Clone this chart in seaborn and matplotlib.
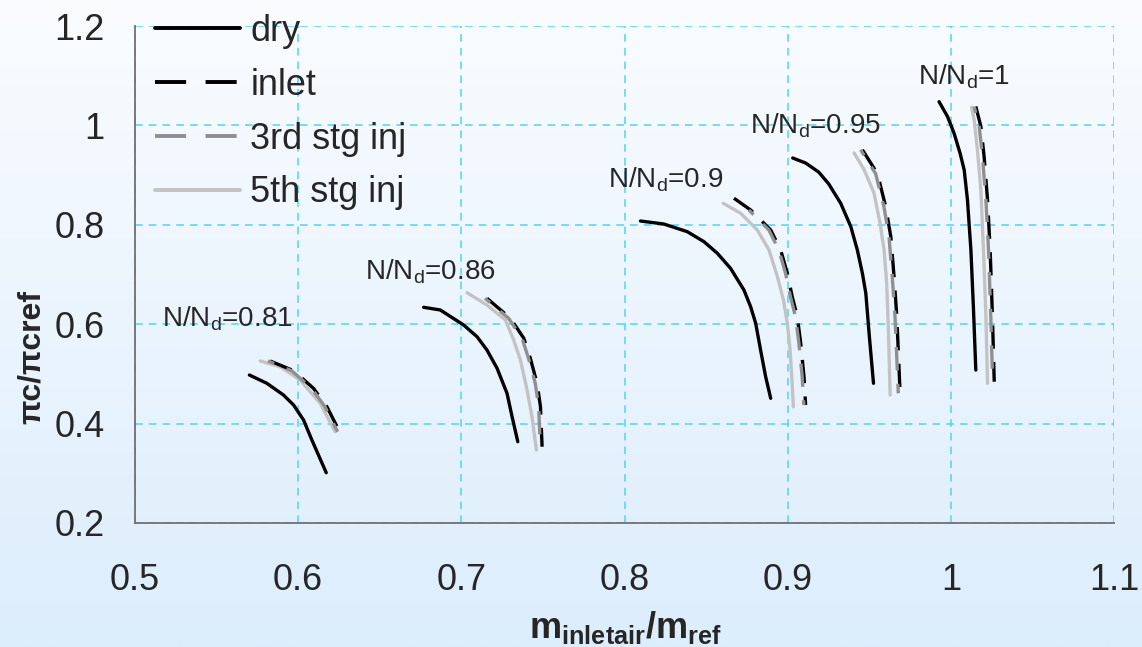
import numpy as np
import pandas as pd
import matplotlib
matplotlib.use("Agg")
import matplotlib.pyplot as plt
import seaborn as sns
from matplotlib.lines import Line2D

# ---- data ----
speeds = ["0.81", "0.86", "0.9", "0.95", "1"]

dry_x = {
    "0.81": [0.5701, 0.5808, 0.5910, 0.5972, 0.6033, 0.6084, 0.6172],
    "0.86": [0.6769, 0.6871, 0.7014, 0.7096, 0.7157, 0.7219, 0.7280, 0.7311, 0.7346],
    "0.9": [0.8098, 0.8241, 0.8385, 0.8487, 0.8569, 0.8650, 0.8732, 0.8773, 0.8804, 0.8834, 0.8865, 0.8896],
    "0.95": [0.9031, 0.9110, 0.9190, 0.9252, 0.9301, 0.9325, 0.9387, 0.9427, 0.9458, 0.9479, 0.9499, 0.9526],
    "1": [0.9928, 0.9980, 1.0020, 1.0057, 1.0082, 1.0102, 1.0123, 1.0139, 1.0153],
}
dry_y = {
    "0.81": [0.4978, 0.4811, 0.4575, 0.4374, 0.4072, 0.3670, 0.3012],
    "0.86": [0.6340, 0.6286, 0.5984, 0.5749, 0.5481, 0.5113, 0.4609, 0.4139, 0.3636],
    "0.9": [0.8076, 0.8016, 0.7861, 0.7660, 0.7427, 0.7124, 0.6688, 0.6352, 0.6018, 0.5481, 0.4944, 0.4509],
    "0.95": [0.9344, 0.9243, 0.9062, 0.8821, 0.8559, 0.8433, 0.7963, 0.7493, 0.7024, 0.6622, 0.5816, 0.4811],
    "1": [1.0477, 1.0175, 0.9840, 0.9437, 0.9101, 0.8498, 0.7493, 0.6286, 0.5078],
}
inlet_x = {
    "0.81": [0.5828, 0.5972, 0.6094, 0.6176, 0.6254],
    "0.86": [0.7157, 0.7301, 0.7383, 0.7423, 0.7464, 0.7485, 0.7495],
    "0.9": [0.8671, 0.8773, 0.8896, 0.8957, 0.8998, 0.9028, 0.9059, 0.9080, 0.9100, 0.9110],
    "0.95": [0.9458, 0.9550, 0.9601, 0.9632, 0.9652, 0.9669, 0.9689],
    "1": [1.0153, 1.0184, 1.0204, 1.0225, 1.0241, 1.0255, 1.0266],
}
inlet_y = {
    "0.81": [0.5260, 0.5064, 0.4710, 0.4340, 0.3837],
    "0.86": [0.6521, 0.6118, 0.5716, 0.5313, 0.4811, 0.4340, 0.3535],
    "0.9": [0.8534, 0.8298, 0.7895, 0.7493, 0.7024, 0.6554, 0.6151, 0.5616, 0.4944, 0.4374],
    "0.95": [0.9509, 0.9030, 0.8365, 0.7762, 0.6956, 0.6151, 0.4609],
    "1": [1.0381, 0.9979, 0.9371, 0.8498, 0.7493, 0.6151, 0.4843],
}
stg3_x = {
    "0.81": [0.5815, 0.5960, 0.6082, 0.6164, 0.6242],
    "0.86": [0.7145, 0.7290, 0.7372, 0.7412, 0.7453, 0.7474, 0.7484],
    "0.9": [0.8762, 0.8885, 0.8946, 0.8987, 0.9017, 0.9048, 0.9069, 0.9089, 0.9099],
    "0.95": [0.9447, 0.9539, 0.9590, 0.9621, 0.9641, 0.9658, 0.9678],
    "1": [1.0143, 1.0174, 1.0194, 1.0215, 1.0231, 1.0245, 1.0256],
}
stg3_y = {
    "0.81": [0.5260, 0.5064, 0.4710, 0.4340, 0.3837],
    "0.86": [0.6521, 0.6118, 0.5716, 0.5313, 0.4811, 0.4340, 0.3535],
    "0.9": [0.8298, 0.7895, 0.7493, 0.7024, 0.6554, 0.6151, 0.5616, 0.4944, 0.4374],
    "0.95": [0.9509, 0.9030, 0.8365, 0.7762, 0.6956, 0.6151, 0.4609],
    "1": [1.0381, 0.9979, 0.9371, 0.8498, 0.7493, 0.6151, 0.4843],
}
stg5_x = {
    "0.81": [0.5767, 0.5890, 0.6012, 0.6135, 0.6227],
    "0.86": [0.7035, 0.7157, 0.7270, 0.7321, 0.7362, 0.7403, 0.7433, 0.7460],
    "0.9": [0.8605, 0.8712, 0.8814, 0.8886, 0.8937, 0.8974, 0.8998, 0.9015, 0.9025, 0.9035],
    "0.95": [0.9407, 0.9468, 0.9529, 0.9566, 0.9591, 0.9607, 0.9618, 0.9628],
    "1": [1.0127, 1.0143, 1.0163, 1.0184, 1.0200, 1.0215, 1.0225],
}
stg5_y = {
    "0.81": [0.5260, 0.5145, 0.4877, 0.4408, 0.3837],
    "0.86": [0.6634, 0.6386, 0.6085, 0.5682, 0.5280, 0.4676, 0.4139, 0.3469],
    "0.9": [0.8433, 0.8232, 0.7895, 0.7493, 0.6956, 0.6487, 0.6018, 0.5481, 0.4944, 0.4340],
    "0.95": [0.9447, 0.9111, 0.8641, 0.8038, 0.7493, 0.6822, 0.5816, 0.4575],
    "1": [1.0364, 1.0109, 0.9505, 0.8700, 0.7493, 0.6151, 0.4811],
}
series_labels = ["dry", "inlet", "3rd stg inj", "5th stg inj"]
label_pos = {"0.81": (0.5166, 0.612), "0.86": (0.641, 0.705), "0.9": (0.790, 0.890),
             "0.95": (0.877, 0.999), "1": (0.980, 1.099)}
xticks = [0.5, 0.6, 0.7, 0.8, 0.9, 1.0, 1.1]
xticklabels = ["0.5", "0.6", "0.7", "0.8", "0.9", "1", "1.1"]
yticks = [0.2, 0.4, 0.6, 0.8, 1.0, 1.2]
yticklabels = ["0.2", "0.4", "0.6", "0.8", "1", "1.2"]

sns.set_style("white")
plt.rcParams["font.family"] = ["Liberation Sans", "DejaVu Sans"]
plt.rcParams["mathtext.fontset"] = "custom"
plt.rcParams["mathtext.rm"] = "Liberation Sans"
plt.rcParams["mathtext.bf"] = "Liberation Sans:bold"

W, H = 1142, 647
fig = plt.figure(figsize=(W / 100, H / 100), dpi=100)

# background gradient
bg = fig.add_axes([0, 0, 1, 1], zorder=-10)
top = np.array([250, 252, 255]) / 255
bot = np.array([220, 237, 252]) / 255
t = np.linspace(0, 1, 256)[:, None]
grad = top[None, :] * (1 - t) + bot[None, :] * t
bg.imshow(grad[:, None, :], aspect="auto", extent=[0, 1, 0, 1])
bg.axis("off")

ax = fig.add_axes([135 / W, 1 - 523 / H, (1114 - 135) / W, (523 - 26) / H])
ax.set_facecolor("none")

lw = 2.4
styles = [
    (dry_x, dry_y, "black", "-", 3),
    (stg5_x, stg5_y, "#c3c3c3", "-", 4),
    (inlet_x, inlet_y, "black", (0, (7, 4)), 5),
    (stg3_x, stg3_y, "#8f8f8f", (5, (7, 4)), 6),
]
for xs, ys, c, ls, z in styles:
    for s in speeds:
        sns.lineplot(x=xs[s], y=ys[s], sort=False, color=c, linestyle=ls,
                     lw=lw, ax=ax, zorder=z, legend=False, errorbar=None)

for s in speeds:
    ax.text(label_pos[s][0], label_pos[s][1], r"N/N$_\mathregular{d}$=" + s,
            fontsize=20, ha="left", va="center", zorder=8)

ax.set_xlim(0.5, 1.1)
ax.set_ylim(0.2, 1.2)
ax.set_xticks(xticks)
ax.set_xticklabels(xticklabels)
ax.set_yticks(yticks)
ax.set_yticklabels(yticklabels)
ax.tick_params(axis="both", labelsize=26, direction="out", color="#707070",
               length=8, width=1.2)
ax.tick_params(axis="x", pad=21)
ax.tick_params(axis="y", pad=14)
ax.grid(True, color="#4dd4ff", linestyle=(0, (5, 4)), linewidth=1.1)
for sp in ["top", "right"]:
    ax.spines[sp].set_visible(False)
for sp in ["left", "bottom"]:
    ax.spines[sp].set_color("#707070")
    ax.spines[sp].set_linewidth(1.3)

fig.text(626 / W, 1 - 627 / H, r"$\mathbf{m_{inletair}/m_{ref}}$", fontsize=26,
         ha="center", va="center")
fig.text(32 / W, 1 - 357 / H, "\u03c0c/\u03c0cref", fontsize=23, fontweight="bold",
         rotation=90, ha="center", va="center")

handles = [
    Line2D([], [], color="black", lw=lw + 0.4),
    Line2D([], [], color="black", lw=lw + 0.4, linestyle=(0, (8, 5))),
    Line2D([], [], color="#8f8f8f", lw=lw + 0.4, linestyle=(0, (8, 5))),
    Line2D([], [], color="#c3c3c3", lw=lw + 0.4),
]
fig.legend(handles, series_labels, loc="upper left",
           bbox_to_anchor=(155 / W, 1 - 14 / H), frameon=False, fontsize=26,
           handlelength=2.36, handletextpad=0.28, labelspacing=0.52, borderpad=0,
           borderaxespad=0)

fig.savefig("out.png", dpi=100)
